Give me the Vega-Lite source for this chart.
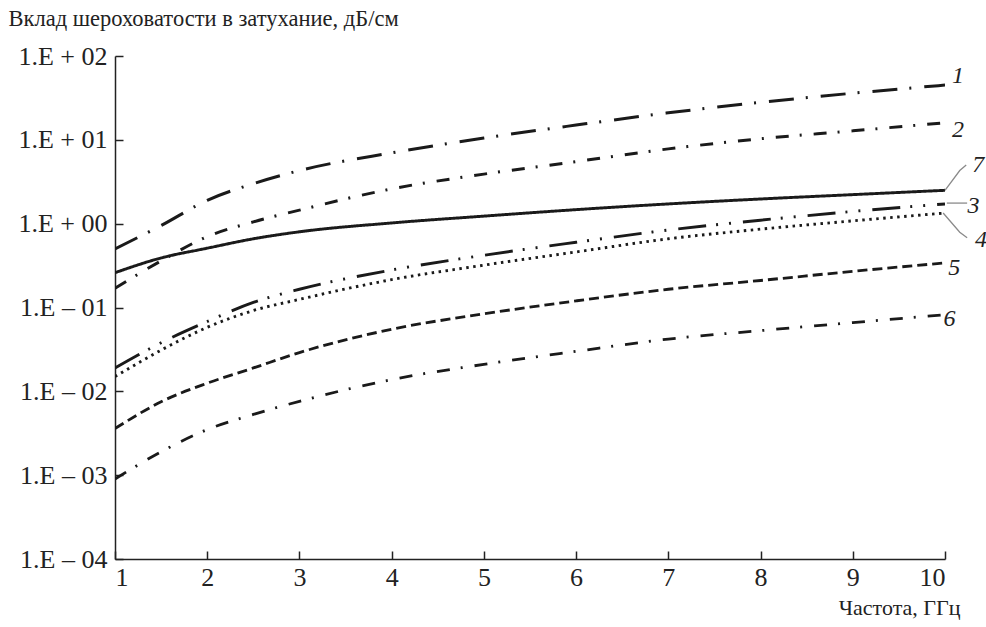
{
  "$schema": "https://vega.github.io/schema/vega-lite/v6.json",
  "width": 830,
  "height": 503,
  "autosize": "none",
  "padding": {"left": 115, "top": 56, "right": 41, "bottom": 68},
  "background": "white",
  "config": {
    "view": {"stroke": null},
    "font": "Liberation Serif",
    "axis": {
      "domainColor": "#222",
      "domainWidth": 1.5,
      "tickColor": "#222",
      "tickWidth": 1.5,
      "grid": false,
      "labelFont": "Liberation Serif",
      "labelFontSize": 26,
      "labelColor": "#222",
      "titleFont": "Liberation Serif",
      "titleFontSize": 22.5,
      "titleFontWeight": "normal",
      "titleColor": "#222"
    }
  },
  "datasets": {
    "curves": [
      {"s": "1", "f": 1, "v": 0.5}, {"s": "1", "f": 1.5, "v": 0.95}, {"s": "1", "f": 2, "v": 1.9}, {"s": "1", "f": 2.5, "v": 3.0}, {"s": "1", "f": 3, "v": 4.3}, {"s": "1", "f": 4, "v": 7.0}, {"s": "1", "f": 5, "v": 10.5}, {"s": "1", "f": 6, "v": 15}, {"s": "1", "f": 7, "v": 21}, {"s": "1", "f": 8, "v": 28}, {"s": "1", "f": 9, "v": 36}, {"s": "1", "f": 10, "v": 45},
      {"s": "2", "f": 1, "v": 0.17}, {"s": "2", "f": 1.5, "v": 0.36}, {"s": "2", "f": 2, "v": 0.7}, {"s": "2", "f": 2.5, "v": 1.05}, {"s": "2", "f": 3, "v": 1.45}, {"s": "2", "f": 4, "v": 2.6}, {"s": "2", "f": 5, "v": 3.9}, {"s": "2", "f": 6, "v": 5.5}, {"s": "2", "f": 7, "v": 7.8}, {"s": "2", "f": 8, "v": 10.3}, {"s": "2", "f": 9, "v": 12.8}, {"s": "2", "f": 10, "v": 16},
      {"s": "7", "f": 1, "v": 0.26}, {"s": "7", "f": 1.5, "v": 0.39}, {"s": "7", "f": 2, "v": 0.51}, {"s": "7", "f": 2.5, "v": 0.66}, {"s": "7", "f": 3, "v": 0.8}, {"s": "7", "f": 4, "v": 1.02}, {"s": "7", "f": 5, "v": 1.23}, {"s": "7", "f": 6, "v": 1.47}, {"s": "7", "f": 7, "v": 1.72}, {"s": "7", "f": 8, "v": 1.97}, {"s": "7", "f": 9, "v": 2.22}, {"s": "7", "f": 10, "v": 2.5},
      {"s": "3", "f": 1, "v": 0.019}, {"s": "3", "f": 1.5, "v": 0.038}, {"s": "3", "f": 2, "v": 0.068}, {"s": "3", "f": 2.5, "v": 0.115}, {"s": "3", "f": 3, "v": 0.165}, {"s": "3", "f": 4, "v": 0.28}, {"s": "3", "f": 5, "v": 0.42}, {"s": "3", "f": 6, "v": 0.6}, {"s": "3", "f": 7, "v": 0.84}, {"s": "3", "f": 8, "v": 1.1}, {"s": "3", "f": 9, "v": 1.4}, {"s": "3", "f": 10, "v": 1.72},
      {"s": "4", "f": 1, "v": 0.015}, {"s": "4", "f": 1.5, "v": 0.031}, {"s": "4", "f": 2, "v": 0.058}, {"s": "4", "f": 2.5, "v": 0.092}, {"s": "4", "f": 3, "v": 0.125}, {"s": "4", "f": 4, "v": 0.215}, {"s": "4", "f": 5, "v": 0.32}, {"s": "4", "f": 6, "v": 0.46}, {"s": "4", "f": 7, "v": 0.66}, {"s": "4", "f": 8, "v": 0.86}, {"s": "4", "f": 9, "v": 1.08}, {"s": "4", "f": 10, "v": 1.34},
      {"s": "5", "f": 1, "v": 0.0036}, {"s": "5", "f": 1.5, "v": 0.0075}, {"s": "5", "f": 2, "v": 0.0125}, {"s": "5", "f": 2.5, "v": 0.019}, {"s": "5", "f": 3, "v": 0.029}, {"s": "5", "f": 4, "v": 0.055}, {"s": "5", "f": 5, "v": 0.084}, {"s": "5", "f": 6, "v": 0.12}, {"s": "5", "f": 7, "v": 0.165}, {"s": "5", "f": 8, "v": 0.21}, {"s": "5", "f": 9, "v": 0.27}, {"s": "5", "f": 10, "v": 0.34},
      {"s": "6", "f": 1, "v": 0.0009}, {"s": "6", "f": 1.5, "v": 0.0019}, {"s": "6", "f": 2, "v": 0.0035}, {"s": "6", "f": 2.5, "v": 0.0053}, {"s": "6", "f": 3, "v": 0.0076}, {"s": "6", "f": 4, "v": 0.0138}, {"s": "6", "f": 5, "v": 0.021}, {"s": "6", "f": 6, "v": 0.03}, {"s": "6", "f": 7, "v": 0.042}, {"s": "6", "f": 8, "v": 0.053}, {"s": "6", "f": 9, "v": 0.066}, {"s": "6", "f": 10, "v": 0.082}
    ],
    "leaders": [
      {"s": "7", "o": 0, "f": 10.0, "v": 2.5}, {"s": "7", "o": 1, "f": 10.16, "v": 4.3}, {"s": "7", "o": 2, "f": 10.23, "v": 5.0},
      {"s": "3", "o": 0, "f": 10.02, "v": 1.76}, {"s": "3", "o": 1, "f": 10.24, "v": 1.76},
      {"s": "4", "o": 0, "f": 9.98, "v": 1.34}, {"s": "4", "o": 1, "f": 10.16, "v": 0.79}, {"s": "4", "o": 2, "f": 10.24, "v": 0.68}
    ],
    "labels": [
      {"s": "1", "f": 10.14, "v": 57},
      {"s": "2", "f": 10.14, "v": 13.1},
      {"s": "7", "f": 10.36, "v": 5.0},
      {"s": "3", "f": 10.31, "v": 1.62},
      {"s": "4", "f": 10.39, "v": 0.64},
      {"s": "5", "f": 10.1, "v": 0.295},
      {"s": "6", "f": 10.05, "v": 0.072}
    ]
  },
  "resolve": {"axis": {"x": "independent", "y": "independent"}},
  "layer": [
    {
      "data": {"name": "curves"},
      "mark": {"type": "line", "interpolate": "monotone", "color": "#1a1a1a", "clip": true},
      "encoding": {
        "x": {
          "field": "f", "type": "quantitative",
          "scale": {"domain": [1, 10], "nice": false, "zero": false},
          "axis": {
            "orient": "bottom",
            "values": [1, 2, 3, 4, 5, 6, 7, 8, 9, 10],
            "format": "d",
            "ticks": false,
            "labelPadding": 5,
            "title": "Частота, ГГц",
            "titleFontSize": 22,
            "titleAlign": "right",
            "titleAnchor": null,
            "titleX": 845,
            "titleY": 55,
            "titleBaseline": "alphabetic"
          }
        },
        "y": {
          "field": "v", "type": "quantitative",
          "scale": {"type": "log", "domain": [0.0001, 100], "nice": false},
          "axis": {
            "orient": "left",
            "values": [0.0001, 0.001, 0.01, 0.1, 1, 10, 100],
            "ticks": false,
            "labelPadding": 8,
            "labelExpr": "'1.E ' + (datum.value >= 1 ? '+ ' : '– ') + '0' + abs(round(log(datum.value) / LN10))",
            "title": "Вклад шероховатости в затухание, дБ/см",
            "titleAngle": 0,
            "titleAlign": "left",
            "titleBaseline": "alphabetic",
            "titleAnchor": null,
            "titleX": -107,
            "titleY": -31
          }
        },
        "detail": {"field": "s"},
        "strokeDash": {
          "field": "s", "type": "nominal", "legend": null,
          "scale": {
            "domain": ["1", "2", "7", "3", "4", "5", "6"],
            "range": [[25, 12, 2, 13], [13, 11, 2, 12], [1, 0], [28, 10, 2, 11, 2, 12], [2.5, 4.5], [10, 5], [13, 11, 2, 12]]
          }
        },
        "strokeWidth": {
          "field": "s", "type": "nominal", "legend": null,
          "scale": {
            "domain": ["1", "2", "7", "3", "4", "5", "6"],
            "range": [3, 2.8, 1.8, 3, 2.6, 2.8, 2.8]
          }
        }
      }
    },
    {
      "data": {"name": "leaders"},
      "mark": {"type": "line", "color": "#8a8a8a", "strokeWidth": 1.3, "clip": false},
      "encoding": {
        "x": {
          "field": "f", "type": "quantitative",
          "axis": {"orient": "bottom", "offset": -8, "values": [1, 2, 3, 4, 5, 6, 7, 8, 9, 10], "tickSize": 8, "labels": false, "domain": false, "title": null}
        },
        "y": {
          "field": "v", "type": "quantitative",
          "axis": {"orient": "left", "offset": -8, "values": [0.0001, 0.001, 0.01, 0.1, 1, 10, 100], "tickSize": 8, "labels": false, "domain": false, "title": null}
        },
        "detail": {"field": "s"},
        "order": {"field": "o"}
      }
    },
    {
      "data": {"name": "labels"},
      "mark": {"type": "text", "font": "Liberation Serif", "fontSize": 24, "fontStyle": "italic", "color": "#222", "align": "center", "baseline": "middle"},
      "encoding": {
        "x": {"field": "f", "type": "quantitative", "axis": null},
        "y": {"field": "v", "type": "quantitative", "axis": null},
        "text": {"field": "s"}
      }
    }
  ]
}
